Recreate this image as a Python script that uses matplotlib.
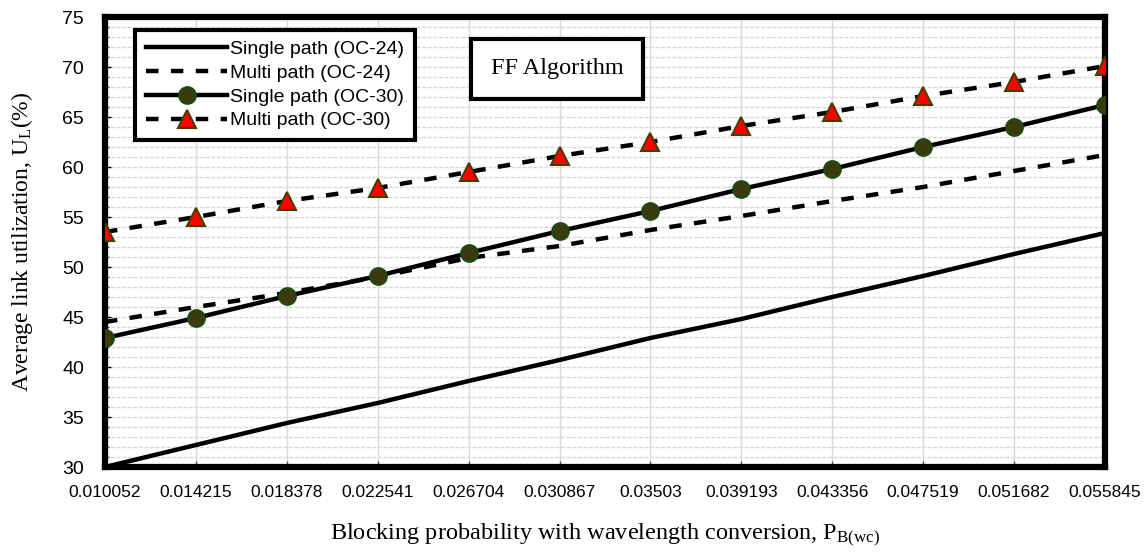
import numpy as np
import matplotlib.pyplot as plt
from matplotlib.ticker import MultipleLocator

plt.rcParams['mathtext.fontset'] = 'custom'
plt.rcParams['mathtext.rm'] = 'Liberation Serif'
plt.rcParams['mathtext.it'] = 'Liberation Serif'

pb = ['0.010052', '0.014215', '0.018378', '0.022541', '0.026704', '0.030867',
      '0.03503', '0.039193', '0.043356', '0.047519', '0.051682', '0.055845']

single_oc24 = [30.0, 32.2, 34.4, 36.4, 38.6, 40.7, 42.9, 44.8, 47.0, 49.1, 51.3, 53.4]
multi_oc24 = [44.5, 46.0, 47.4, 49.0, 50.9, 52.1, 53.7, 55.1, 56.6, 58.0, 59.6, 61.2]
single_oc30 = [42.9, 44.9, 47.1, 49.1, 51.4, 53.6, 55.6, 57.8, 59.8, 62.0, 64.0, 66.2]
multi_oc30 = [53.5, 55.0, 56.6, 57.9, 59.5, 61.1, 62.5, 64.1, 65.5, 67.1, 68.5, 70.1]

x = np.arange(len(pb))

fig = plt.figure(figsize=(11.46, 5.54), dpi=100)
ax = fig.add_axes([105 / 1146, 87 / 554, 1000 / 1146, 450 / 554])

ax.plot(x, single_oc24, color='black', lw=3.2, label='Single path (OC-24)', zorder=3)
ax.plot(x, multi_oc24, color='black', lw=3.2, dashes=(2.8, 2.8), label='Multi path (OC-24)', zorder=3)
ax.plot(x, single_oc30, color='black', lw=3.2, marker='o', ms=12,
        mfc='#3a3a0c', mec='#1d4a12', mew=1.5, label='Single path (OC-30)', zorder=4)
ax.plot(x, multi_oc30, color='black', lw=3.2, dashes=(2.8, 2.8), marker='^', ms=13,
        mfc='#ff0000', mec='#4a3c00', mew=1.5, label='Multi path (OC-30)', zorder=4)

ax.set_xlim(0, len(pb) - 1)
ax.set_ylim(30, 75)
ax.set_xticks(x)
ax.set_xticklabels(pb, family='Liberation Sans', fontsize=12.5)
ax.yaxis.set_major_locator(MultipleLocator(5))
ax.yaxis.set_minor_locator(MultipleLocator(1))
for lab in ax.get_yticklabels():
    lab.set_family('Liberation Sans')
    lab.set_fontsize(14)

ax.tick_params(axis='x', direction='in', length=4, width=1, pad=13, color='#555555')
ax.tick_params(axis='y', which='major', direction='in', length=4, width=1, pad=15)
ax.tick_params(axis='y', which='minor', direction='in', length=3, width=1, color='#555555')

ax.grid(axis='x', which='major', color='#d9d9d9', lw=1)
ax.grid(axis='y', which='both', color='#d9d9d9', lw=1, ls=(0, (3, 1)))
ax.set_axisbelow(True)

for s in ax.spines.values():
    s.set_linewidth(4.5)
    s.set_color('black')

ax.set_xlabel(r'Blocking probability with wavelength conversion, P$_{\mathrm{B(wc)}}$',
              family='Liberation Serif', fontsize=17.5, labelpad=16)
ax.set_ylabel(r'Average link utilization, U$_{\mathrm{L}}$(%)',
              family='Liberation Serif', fontsize=17, labelpad=20)

leg = ax.legend(loc='upper left', bbox_to_anchor=(0.03, 0.972), borderaxespad=0,
                fancybox=False, framealpha=1, edgecolor='black', handlelength=4.2,
                handletextpad=0.15, borderpad=0.55, labelspacing=0.32,
                prop={'family': 'Liberation Sans', 'size': 14})
leg.get_frame().set_linewidth(3)

ax.text(0.452, 0.885, 'FF Algorithm', transform=ax.transAxes, ha='center', va='center',
        family='Liberation Serif', fontsize=17.5, zorder=6,
        bbox=dict(boxstyle='square,pad=0.8', fc='white', ec='black', lw=3))

fig.savefig('out.png', dpi=100)
